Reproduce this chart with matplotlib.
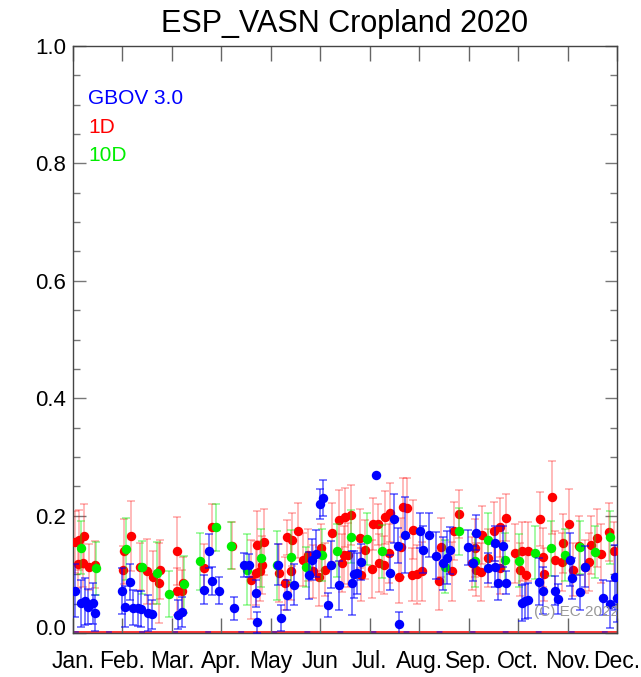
import matplotlib
matplotlib.use("Agg")
import matplotlib.pyplot as plt
import matplotlib.transforms as mtransforms
from matplotlib.ticker import MultipleLocator
import numpy as np

plt.rcParams['font.family'] = ['Liberation Sans', 'DejaVu Sans']

title = "ESP_VASN Cropland 2020"
month_labels = ["Jan.", "Feb.", "Mar.", "Apr.", "May", "Jun", "Jul.", "Aug.",
                "Sep.", "Oct.", "Nov.", "Dec."]
legend_labels = ["GBOV 3.0", "1D", "10D"]

# x in fractional months since Jan. (0 = Jan., 11 = Dec.)
red_x = [0.04, 0.11, 0.13, 0.21, 0.23, 0.33, 0.44, 1.02, 1.04, 1.17, 1.35, 1.49, 1.61, 1.73,
         1.76, 2.11, 2.10, 2.20, 2.22, 2.65, 2.82, 3.21, 3.59, 3.71, 3.73, 3.78, 3.82, 3.86,
         4.17, 4.29, 4.32, 4.40, 4.42, 4.55, 4.66, 4.76, 4.86, 4.98, 5.01, 5.10, 5.24, 5.37,
         5.43, 5.47, 5.49, 5.57, 5.62, 5.80, 5.82, 5.90, 6.04, 6.06, 6.17, 6.18, 6.28, 6.31,
         6.39, 6.41, 6.60, 6.64, 6.68, 6.75, 6.85, 6.88, 6.95, 7.05, 7.41, 7.45, 7.67, 7.70,
         7.81, 8.06, 8.13, 8.15, 8.24, 8.28, 8.40, 8.52, 8.63, 8.64, 8.75, 8.94, 9.04, 9.07,
         9.17, 9.21, 9.44, 9.51, 9.52, 9.68, 9.75, 9.88, 9.90, 10.02, 10.12, 10.23, 10.35,
         10.44, 10.47, 10.59, 10.67, 10.83, 10.94]
red_y = [0.155, 0.117, 0.159, 0.119, 0.165, 0.112, 0.116, 0.108, 0.139, 0.165, 0.113, 0.105,
         0.095, 0.085, 0.108, 0.140, 0.071, 0.072, 0.085, 0.110, 0.180, 0.149, 0.091, 0.102,
         0.150, 0.105, 0.116, 0.155, 0.102, 0.085, 0.163, 0.106, 0.159, 0.174, 0.125, 0.133,
         0.105, 0.096, 0.145, 0.108, 0.171, 0.193, 0.119, 0.133, 0.197, 0.133, 0.201, 0.161,
         0.099, 0.142, 0.109, 0.186, 0.185, 0.119, 0.116, 0.197, 0.136, 0.205, 0.096, 0.146,
         0.214, 0.213, 0.099, 0.176, 0.100, 0.105, 0.089, 0.146, 0.105, 0.174, 0.203, 0.119,
         0.145, 0.108, 0.104, 0.167, 0.128, 0.173, 0.180, 0.111, 0.196, 0.136, 0.108, 0.139,
         0.098, 0.139, 0.194, 0.129, 0.100, 0.231, 0.124, 0.121, 0.153, 0.186, 0.108, 0.149,
         0.113, 0.121, 0.150, 0.162, 0.135, 0.172, 0.139]
red_err = [0.052, 0.040, 0.051, 0.040, 0.055, 0.039, 0.040, 0.040, 0.055, 0.060, 0.040, 0.055,
           0.045, 0.068, 0.050, 0.058, 0.040, 0.035, 0.045, 0.041, 0.040, 0.040, 0.067, 0.055,
           0.057, 0.050, 0.050, 0.056, 0.050, 0.045, 0.030, 0.050, 0.045, 0.047, 0.045, 0.045,
           0.045, 0.050, 0.040, 0.045, 0.050, 0.050, 0.050, 0.050, 0.050, 0.055, 0.051, 0.050,
           0.045, 0.050, 0.050, 0.044, 0.035, 0.050, 0.050, 0.045, 0.050, 0.050, 0.045, 0.050,
           0.050, 0.051, 0.045, 0.050, 0.050, 0.050, 0.050, 0.050, 0.050, 0.050, 0.041, 0.045,
           0.050, 0.045, 0.050, 0.050, 0.050, 0.050, 0.050, 0.045, 0.040, 0.050, 0.045, 0.050,
           0.045, 0.050, 0.046, 0.050, 0.045, 0.062, 0.050, 0.050, 0.050, 0.059, 0.045, 0.050,
           0.045, 0.050, 0.050, 0.050, 0.050, 0.050, 0.050]

green_x = [0.16, 0.46, 1.08, 1.39, 1.69, 1.95, 2.24, 2.57, 2.89, 3.19, 3.51, 3.80, 4.12, 4.41,
           4.72, 5.04, 5.33, 5.63, 5.94, 6.24, 7.52, 7.81, 8.13, 8.40, 8.74, 9.01, 9.34, 9.66,
           9.95, 10.25, 10.56, 10.85]
green_y = [0.145, 0.110, 0.143, 0.112, 0.102, 0.066, 0.083, 0.122, 0.180, 0.149, 0.108, 0.128,
           0.115, 0.130, 0.112, 0.133, 0.140, 0.164, 0.160, 0.139, 0.113, 0.173, 0.123, 0.159,
           0.125, 0.123, 0.137, 0.144, 0.133, 0.146, 0.138, 0.163]
green_err = [0.045, 0.045, 0.053, 0.045, 0.053, 0.039, 0.049, 0.049, 0.040, 0.040, 0.060, 0.050,
             0.059, 0.045, 0.034, 0.045, 0.045, 0.045, 0.045, 0.045, 0.045, 0.040, 0.045, 0.045,
             0.045, 0.045, 0.045, 0.047, 0.045, 0.045, 0.045, 0.045]

blue_x = [0.04, 0.17, 0.24, 0.31, 0.40, 0.45, 1.00, 1.05, 1.15, 1.22, 1.32, 1.37, 1.52, 1.60,
          2.12, 2.21, 2.65, 2.76, 2.82, 2.96, 3.26, 3.46, 3.56, 3.71, 3.72, 4.15, 4.20, 4.32,
          4.46, 4.77, 4.83, 4.91, 4.99, 5.06, 5.16, 5.22, 5.37, 5.64, 5.68, 5.74, 5.82, 6.13,
          6.41, 6.49, 6.58, 6.60, 6.71, 7.02, 7.08, 7.19, 7.35, 7.48, 7.56, 7.62, 7.99, 8.08,
          8.15, 8.40, 8.53, 8.54, 8.60, 8.69, 8.76, 9.07, 9.14, 9.21, 9.43, 9.50, 9.75, 9.80,
          10.05, 10.10, 10.25, 10.35, 10.71, 10.85, 10.95, 10.99]
blue_y = [0.072, 0.051, 0.054, 0.045, 0.051, 0.034, 0.072, 0.045, 0.087, 0.043, 0.042, 0.041,
          0.034, 0.032, 0.031, 0.036, 0.074, 0.140, 0.088, 0.072, 0.042, 0.116, 0.115, 0.068,
          0.018, 0.116, 0.025, 0.065, 0.082, 0.098, 0.125, 0.135, 0.220, 0.230, 0.048, 0.116,
          0.081, 0.085, 0.100, 0.102, 0.121, 0.270, 0.103, 0.195, 0.149, 0.015, 0.167, 0.174,
          0.142, 0.167, 0.132, 0.119, 0.128, 0.141, 0.146, 0.119, 0.171, 0.111, 0.113, 0.153,
          0.086, 0.148, 0.086, 0.051, 0.054, 0.056, 0.087, 0.072, 0.072, 0.058, 0.125, 0.093,
          0.069, 0.113, 0.060, 0.049, 0.095, 0.059]
blue_err = [0.045, 0.040, 0.040, 0.030, 0.035, 0.030, 0.039, 0.035, 0.030, 0.030, 0.030, 0.030,
            0.030, 0.025, 0.025, 0.025, 0.025, 0.029, 0.024, 0.023, 0.020, 0.020, 0.020, 0.023,
            0.018, 0.035, 0.022, 0.025, 0.035, 0.040, 0.035, 0.040, 0.025, 0.030, 0.020, 0.040,
            0.042, 0.055, 0.040, 0.035, 0.030, 0.000, 0.030, 0.041, 0.030, 0.020, 0.064, 0.030,
            0.040, 0.038, 0.040, 0.045, 0.045, 0.040, 0.030, 0.030, 0.030, 0.025, 0.035, 0.030,
            0.030, 0.035, 0.020, 0.030, 0.030, 0.030, 0.040, 0.040, 0.025, 0.025, 0.045, 0.035,
            0.030, 0.035, 0.030, 0.040, 0.055, 0.040]

RED = '#ff0000'
GREEN = '#00ee00'
BLUE = '#0000ff'

fig = plt.figure(figsize=(6.41, 6.77), dpi=100)
ax = fig.add_axes([73/641, 1 - 633/677, 544/641, 587/677])

ax.set_xlim(0, 11)
ax.set_ylim(0, 1.0)

# bottom fill lines
ax.axhline(0.002, color=RED, lw=1.4, alpha=0.8, zorder=1)
ax.axhline(0.002, color=BLUE, lw=1.4, alpha=0.5, ls=(0, (3, 14)), zorder=1)

ms = 6.8
ax.errorbar(red_x, red_y, yerr=red_err, fmt='none', ecolor=RED, alpha=0.35,
            elinewidth=1.1, capsize=3, capthick=1.1, zorder=2)
ax.plot(red_x, red_y, 'o', color=RED, ms=ms, mec='none', zorder=3)
ax.errorbar(green_x, green_y, yerr=green_err, fmt='none', ecolor=GREEN, alpha=0.45,
            elinewidth=1.1, capsize=3, capthick=1.1, zorder=4)
ax.plot(green_x, green_y, 'o', color=GREEN, ms=ms, mec='none', zorder=5)
ax.errorbar(blue_x, blue_y, yerr=blue_err, fmt='none', ecolor=BLUE, alpha=0.65,
            elinewidth=1.1, capsize=3, capthick=1.1, zorder=6)
ax.plot(blue_x, blue_y, 'o', color=BLUE, ms=ms, mec='none', zorder=7)

# legend text
for lab, col, yy in zip(legend_labels, [BLUE, RED, GREEN], [0.911, 0.862, 0.813]):
    ax.text(0.028, yy, lab, color=col, fontsize=15, transform=ax.transAxes, va='center', ha='left')

ax.text(9.32, 0.035, "(C) EC 2022", color='#999999', fontsize=11, va='center', ha='left',
        clip_on=True, zorder=8)

ax.set_title(title, fontsize=22, pad=10)

ax.set_xticks(np.arange(12))
ax.set_xticklabels(month_labels, fontsize=16.5)
ax.yaxis.set_minor_locator(MultipleLocator(0.05))
ax.set_yticks(np.arange(0, 1.01, 0.2))
ax.set_yticklabels([f"{v:.1f}" for v in np.arange(0, 1.01, 0.2)], fontsize=16)

ax.tick_params(axis='x', which='major', direction='in', length=11, width=1, color='#666666',
               top=True, bottom=True, pad=12)
ax.tick_params(axis='y', which='major', direction='in', length=9, width=1, color='#777777',
               left=True, right=True, pad=5)
ax.tick_params(axis='y', which='minor', direction='in', length=5, width=1, color='#777777',
               left=True, right=True)
for s in ax.spines.values():
    s.set_color('#444444')
    s.set_linewidth(1.0)

# the 0.0 label sits slightly above the bottom frame in the reference
lbl0 = ax.get_yticklabels()[0]
lbl0.set_transform(lbl0.get_transform() + mtransforms.ScaledTranslation(0, 6/100, fig.dpi_scale_trans))

fig.savefig("out.png", dpi=100)
